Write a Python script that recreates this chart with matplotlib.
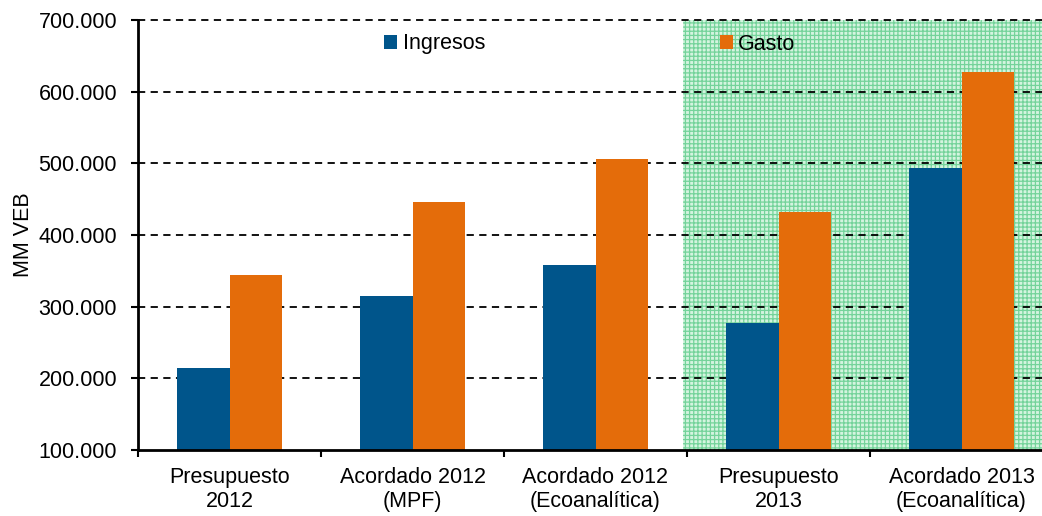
import matplotlib
matplotlib.use("Agg")
import matplotlib.pyplot as plt
from matplotlib.patches import Patch
import numpy as np

categories = ["Presupuesto\n2012", "Acordado 2012\n(MPF)", "Acordado 2012\n(Ecoanalítica)",
              "Presupuesto\n2013", "Acordado 2013\n(Ecoanalítica)"]
ingresos = [215, 315, 358, 277, 494]
gasto = [344, 446, 506, 432, 627]
yticks = [100, 200, 300, 400, 500, 600, 700]
ytick_labels = ["100.000", "200.000", "300.000", "400.000", "500.000", "600.000", "700.000"]

plt.rcParams['font.family'] = ['Liberation Sans', 'DejaVu Sans']
plt.rcParams['hatch.linewidth'] = 0.9

FS = 15.5
fig = plt.figure(figsize=(10.42, 5.16), dpi=100)
ax = fig.add_axes([138/1042, 66/516, 915/1042, 430/516])

x = np.arange(len(categories))
w = 0.285
# shaded forecast region
ax.axvspan(2.48, 4.6, facecolor='#d4f4df', edgecolor='#74d39a', hatch='++++', linewidth=0, zorder=0.5)

for yv in yticks[1:]:
    ax.axhline(yv, color='black', linestyle=(0, (4, 3)), linewidth=1.3, zorder=1, clip_on=False)

ax.bar(x - w/2, ingresos, w, bottom=0, color='#00558b', zorder=2, label='Ingresos')
ax.bar(x + w/2, gasto, w, bottom=0, color='#e46c0a', zorder=2, label='Gasto')

ax.set_xlim(-0.5, 4.5)
ax.set_ylim(100, 700)
ax.set_yticks(yticks)
ax.set_yticklabels(ytick_labels, fontsize=FS)
ax.set_xticks(x)
ax.set_xticklabels(categories, fontsize=FS, linespacing=1.2)
ax.set_xticks(np.arange(-0.5, 5.0, 1.0), minor=True)
ax.tick_params(axis='x', which='major', length=0, pad=12)
ax.tick_params(axis='x', which='minor', length=5, width=1.5, direction='out')
ax.tick_params(axis='y', length=5, width=1.5, pad=10)
ax.set_ylabel("MM VEB", fontsize=FS, labelpad=3)

for s in ['top', 'right']:
    ax.spines[s].set_visible(False)
for s in ['left', 'bottom']:
    ax.spines[s].set_linewidth(2)
    ax.spines[s].set_zorder(3)

handles = [Patch(facecolor='#00558b', label='Ingresos'), Patch(facecolor='#e46c0a', label='Gasto')]
leg = ax.legend(handles=handles, ncol=2, frameon=False, fontsize=FS,
                loc='center left', bbox_to_anchor=((385-138)/915 - 0.01, (450-44)/430),
                handlelength=0.6, handleheight=0.6, handletextpad=0.25, columnspacing=10.9,
                borderaxespad=0)

fig.savefig("out.png", dpi=100)
